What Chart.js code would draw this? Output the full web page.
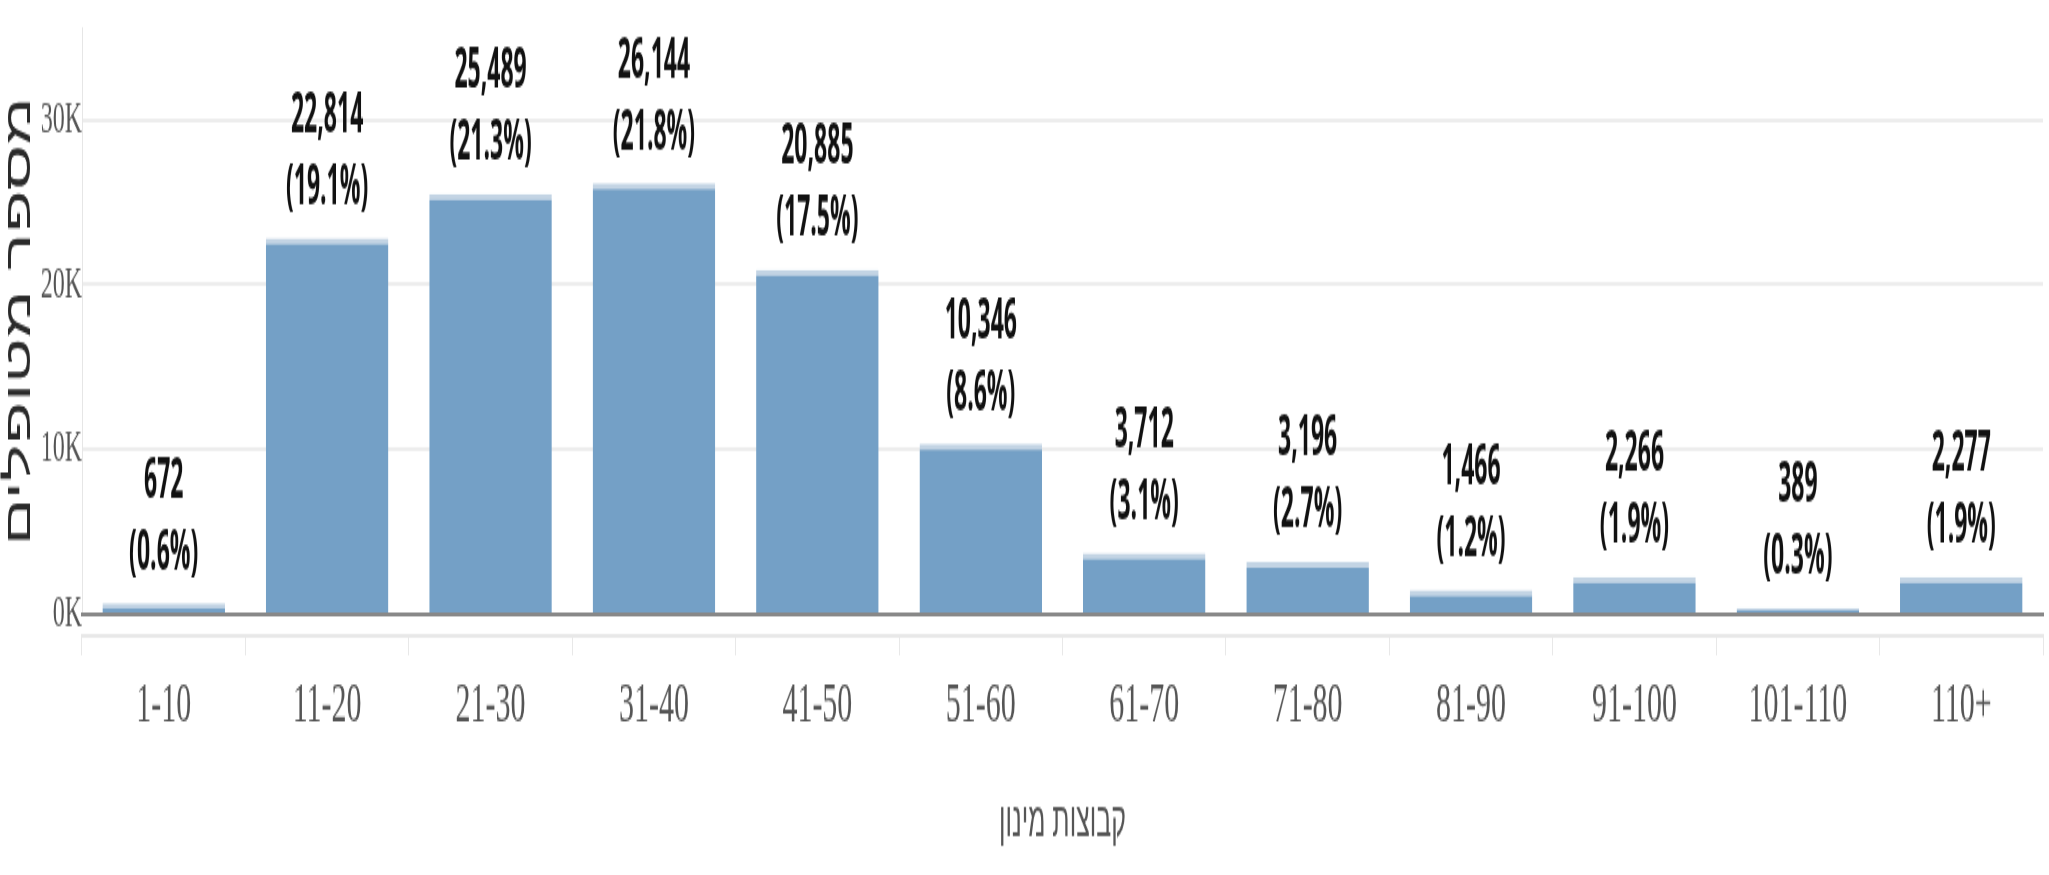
<!DOCTYPE html>
<html>
<head>
<meta charset="utf-8">
<script src="https://cdn.jsdelivr.net/npm/chart.js@4.4.1/dist/chart.umd.min.js"></script>
<style>
  html, body { margin: 0; padding: 0; background: #fff; }
  #wrap { width: 2049px; height: 875px; overflow: hidden; }
  /* the reference is stretched tall, so the canvas is drawn short and scaled up */
  #mycanvas { display: block; transform: scaleY(1.9444); transform-origin: 0 0; }
</style>
</head>
<body>
<div id="wrap"><canvas id="mycanvas" width="2049" height="450"></canvas></div>
<script>
var groups = ['1-10', '11-20', '21-30', '31-40', '41-50', '51-60', '61-70', '71-80', '81-90', '91-100', '101-110', '110+'];
var patients = [672, 22814, 25489, 26144, 20885, 10346, 3712, 3196, 1466, 2266, 389, 2277];
var pctLabels = ['(0.6%)', '(19.1%)', '(21.3%)', '(21.8%)', '(17.5%)', '(8.6%)', '(3.1%)', '(2.7%)', '(1.2%)', '(1.9%)', '(0.3%)', '(1.9%)'];
var yTickValues = [0, 10000, 20000, 30000];
var yTickLabels = ['0K', '10K', '20K', '30K'];

var serif = 'Liberation Serif';
var sans = 'Liberation Sans';

// two-line value labels above the bars
var barLabels = {
  id: 'barLabels',
  afterDatasetsDraw: function(chart) {
    var ctx = chart.ctx;
    var meta = chart.getDatasetMeta(0);
    ctx.save();
    ctx.fillStyle = '#111';
    ctx.textAlign = 'center';
    ctx.textBaseline = 'middle';
    ctx.font = 'bold 23px "Open Sans"';
    meta.data.forEach(function(bar, i) {
      var lines = [patients[i].toLocaleString('en-US'), pctLabels[i]];
      var offs = [62.7, 25.7];
      for (var j = 0; j < 2; j++) {
        ctx.save();
        ctx.translate(bar.x, bar.y - offs[j]);
        ctx.scale(1, 1.25);
        ctx.fillText(lines[j], 0, 0);
        ctx.restore();
      }
    });
    ctx.restore();
  }
};

var ctx = document.getElementById('mycanvas');

var chart = new Chart(ctx, {
  type: 'bar',
  data: {
    labels: groups,
    datasets: [{
      data: patients,
      backgroundColor: '#74a0c6',
      borderColor: '#c3d4e4',
      borderWidth: { top: 3, left: 0, right: 0, bottom: 0 },
      borderSkipped: false,
      barPercentage: 0.75,
      categoryPercentage: 1,
      xAxisID: 'x',
      yAxisID: 'y'
    }]
  },
  options: {
    responsive: false,
    maintainAspectRatio: false,
    devicePixelRatio: 1,
    animation: false,
    layout: { padding: { top: 14, right: 6, left: 0, bottom: 0 } },
    plugins: {
      legend: { display: false },
      tooltip: { enabled: false }
    },
    scales: {
      y: {
        min: 0,
        max: 35560,
        afterFit: function(scale) { scale.width = 82; },
        afterBuildTicks: function(scale) {
          scale.ticks = yTickValues.map(function(v) { return { value: v }; });
        },
        ticks: {
          padding: 0,
          color: '#555',
          font: { family: serif, size: 24 },
          callback: function(v, i) { return yTickLabels[i]; }
        },
        grid: { color: '#ededed', lineWidth: 2, drawTicks: false },
        border: { color: '#e6e6e6', width: 1 },
        title: {
          display: true,
          text: 'מספר מטופלים',
          color: '#2a2a2a',
          font: { family: sans, size: 36, lineHeight: 1 },
          padding: { top: 2, bottom: 0 }
        }
      },
      x: {
        position: 'bottom',
        offset: true,
        afterFit: function(scale) { scale.height = 11; },
        ticks: { display: false },
        grid: { display: true, drawOnChartArea: false, tickLength: 11, color: 'rgba(0,0,0,0)' },
        border: { color: '#888', width: 2, dash: [1.5, 1.5] }
      },
      x2: {
        type: 'category',
        position: 'bottom',
        offset: true,
        afterFit: function(scale) { scale.height = 123; },
        ticks: {
          padding: 8,
          color: '#555',
          font: { family: serif, size: 30 }
        },
        grid: { display: true, drawOnChartArea: false, offset: true, tickLength: 10, color: '#e8e8e8', lineWidth: 1 },
        border: { color: '#e8e8e8', width: 2 },
        title: {
          display: true,
          text: 'קבוצות מינון',
          color: '#555',
          font: { family: sans, size: 25 },
          padding: { top: 27, bottom: 12 }
        }
      }
    }
  },
  plugins: [barLabels]
});
</script>
</body>
</html>
